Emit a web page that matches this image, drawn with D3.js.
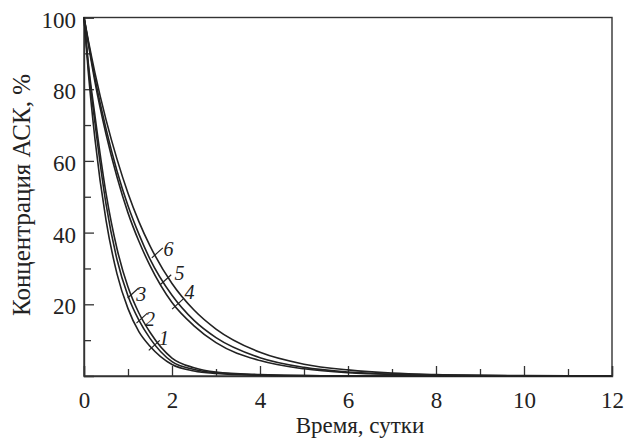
<!DOCTYPE html>
<html>
<head>
<meta charset="utf-8">
<script src="https://cdn.jsdelivr.net/npm/d3@7"></script>
<style>
  body { margin: 0; background: #fff; }
  svg { display: block; }
</style>
</head>
<body>
<svg id="chart"></svg>
<script>
// время, сутки
var days = [0, 0.1, 0.25, 0.5, 0.75, 1, 1.25, 1.5, 2, 2.5, 3, 4, 5, 6, 7, 8, 10, 12];

// концентрация АСК, % (кривые 1-6)
var curve1 = [100, 84.5, 66, 43.5, 28.5, 18.8, 12.3, 8.3, 3.2, 1.4, 0.7, 0.2, 0.05, 0, 0, 0, 0, 0];
var curve2 = [100, 86, 70.5, 48, 32.5, 22.3, 15.5, 10.5, 4.0, 1.8, 0.9, 0.3, 0.1, 0, 0, 0, 0, 0];
var curve3 = [100, 87, 72.5, 51, 35.5, 24.8, 17.5, 12.2, 5.0, 2.3, 1.1, 0.4, 0.1, 0, 0, 0, 0, 0];
var curve4 = [100, 92.5, 82, 67.5, 55.5, 45.5, 37.5, 30.8, 20.5, 14, 9.3, 4.3, 2.0, 0.9, 0.4, 0.2, 0, 0];
var curve5 = [100, 93, 83, 69, 57.2, 47.5, 39.5, 32.6, 22.5, 15.5, 10.7, 5.1, 2.4, 1.1, 0.5, 0.25, 0.05, 0];
var curve6 = [100, 93.5, 84.5, 71.5, 60.5, 51, 43, 36.3, 25.8, 18.4, 13.1, 6.6, 3.3, 1.7, 0.8, 0.4, 0.1, 0];

var curves = [curve1, curve2, curve3, curve4, curve5, curve6];
var curveNames = ["1", "2", "3", "4", "5", "6"];

// where each number sits: point on the curve and position of the digit
var labelT = [1.54, 1.26, 1.06, 2.07, 1.80, 1.61];
var labelV = [8.0, 15.6, 22.6, 19.5, 26.3, 33.8];
var textT = [1.82, 1.50, 1.30, 2.40, 2.17, 1.92];
var textV = [10.5, 15.8, 22.8, 23.3, 28.8, 35.5];

var xTicks = [0, 2, 4, 6, 8, 10, 12];
var xMinor = [1, 3, 5, 7, 9, 11];
var yTicks = [20, 40, 60, 80, 100];
var yMinor = [10, 30, 50, 70, 90];

var svgWidth = 625;
var svgHeight = 439;
var plotLeft = 84, plotRight = 612, plotTop = 17.5, plotBottom = 376;

var svg = d3.select("#chart")
    .attr("width", svgWidth)
    .attr("height", svgHeight);

var xScale = d3.scaleLinear().domain([0, 12]).range([plotLeft, plotRight]);
var yScale = d3.scaleLinear().domain([0, 100]).range([plotBottom, plotTop]);

var font = "'Liberation Serif', 'Times New Roman', serif";
var ink = "#222";

// frame
svg.append("rect")
    .attr("x", plotLeft)
    .attr("y", plotTop)
    .attr("width", plotRight - plotLeft)
    .attr("height", plotBottom - plotTop)
    .attr("fill", "none")
    .attr("stroke", "#333")
    .attr("stroke-width", 1.4);

// x axis, ticks pointing inside
var xAxis = svg.append("g")
    .attr("transform", "translate(0," + plotBottom + ")")
    .call(d3.axisBottom(xScale).tickValues(xTicks).tickSize(-10).tickPadding(16).tickFormat(d3.format("d")));
svg.append("g")
    .attr("transform", "translate(0," + plotBottom + ")")
    .call(d3.axisBottom(xScale).tickValues(xMinor).tickSize(-7).tickFormat(""))
    .select(".domain").remove();

var yAxis = svg.append("g")
    .attr("transform", "translate(" + plotLeft + ",0)")
    .call(d3.axisLeft(yScale).tickValues(yTicks).tickSize(-10).tickPadding(8).tickFormat(d3.format("d")));
svg.append("g")
    .attr("transform", "translate(" + plotLeft + ",0)")
    .call(d3.axisLeft(yScale).tickValues(yMinor).tickSize(-7).tickFormat(""))
    .select(".domain").remove();

svg.selectAll(".tick line")
    .attr("stroke", "#333")
    .attr("stroke-width", 1.3);
svg.selectAll(".domain")
    .attr("stroke", "#333")
    .attr("stroke-width", 1.4);
svg.selectAll(".tick text")
    .attr("font-family", font)
    .attr("font-size", "23px")
    .attr("fill", ink);
yAxis.selectAll(".tick text").attr("dy", "0.42em");

// curves
var line = d3.line()
    .x(function(d, i) { return xScale(days[i]); })
    .y(function(d) { return yScale(d); })
    .curve(d3.curveMonotoneX);

svg.selectAll(".curve")
    .data(curves)
    .enter()
    .append("path")
    .attr("class", "curve")
    .attr("d", line)
    .attr("fill", "none")
    .attr("stroke", ink)
    .attr("stroke-width", 1.6);

// little leader strokes and italic numbers
svg.selectAll(".leader")
    .data(curveNames)
    .enter()
    .append("line")
    .attr("class", "leader")
    .attr("x1", function(d, i) { return xScale(labelT[i]) - 3; })
    .attr("y1", function(d, i) { return yScale(labelV[i]) + 3; })
    .attr("x2", function(d, i) { return xScale(labelT[i]) + 8; })
    .attr("y2", function(d, i) { return yScale(labelV[i]) - 7; })
    .attr("stroke", ink)
    .attr("stroke-width", 1.2);

svg.selectAll(".cname")
    .data(curveNames)
    .enter()
    .append("text")
    .attr("class", "cname")
    .attr("x", function(d, i) { return xScale(textT[i]); })
    .attr("y", function(d, i) { return yScale(textV[i]); })
    .attr("dy", "0.35em")
    .attr("text-anchor", "middle")
    .attr("font-family", font)
    .attr("font-style", "italic")
    .attr("font-size", "20px")
    .attr("fill", ink)
    .text(function(d) { return d; });

// axis titles
svg.append("text")
    .attr("transform", "translate(30," + 195 + ") rotate(-90)")
    .attr("text-anchor", "middle")
    .attr("font-family", font)
    .attr("font-size", "25px")
    .attr("fill", ink)
    .text("Концентрация АСК, %");

svg.append("text")
    .attr("x", 360)
    .attr("y", 433)
    .attr("text-anchor", "middle")
    .attr("font-family", font)
    .attr("font-size", "23px")
    .attr("fill", ink)
    .text("Время, сутки");
</script>
</body>
</html>
